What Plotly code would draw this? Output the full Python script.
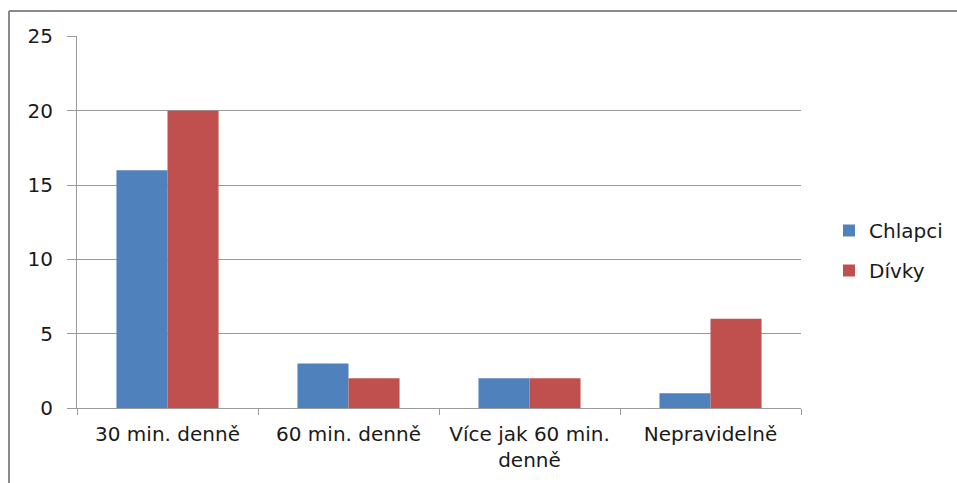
import plotly.graph_objects as go

categories = ["30 min. denně", "60 min. denně", "Více jak 60 min.<br>denně", "Nepravidelně"]
chlapci = [16, 3, 2, 1]
divky = [20, 2, 2, 6]
y_ticks = [0, 5, 10, 15, 20, 25]

W, H = 957, 483
L, R, T, B = 77, 156, 36, 75
pw, ph = W - L - R, H - T - B

def px_x(x):
    return (x - L) / pw

def px_y(y):
    return (H - B - y) / ph

FONT = "DejaVu Sans"
TXT = "#1a1a1a"
fig = go.Figure()
fig.add_trace(go.Bar(name="Chlapci", x=categories, y=chlapci, marker_color="#4F81BD",
                     marker_line_width=0, legendgroup="a"))
fig.add_trace(go.Bar(name="Dívky", x=categories, y=divky, marker_color="#C0504D",
                     marker_line_width=0, legendgroup="b"))

fig.update_layout(
    width=W, height=H,
    margin=dict(l=L, r=R, t=T, b=B, pad=0, autoexpand=False),
    paper_bgcolor="white", plot_bgcolor="white",
    barmode="group", bargap=0.436, bargroupgap=0,
    font=dict(family=FONT, size=20, color=TXT),
    legend=dict(x=px_x(829), y=px_y(211), xanchor="left", yanchor="top",
                font=dict(size=20, family=FONT, color=TXT),
                itemwidth=30, tracegroupgap=11, bgcolor="rgba(0,0,0,0)"),
    xaxis=dict(type="category", tickson="boundaries", ticks="outside", ticklen=6,
               tickcolor="#9a9a9a", showline=True, linecolor="#9a9a9a", linewidth=1,
               showgrid=False, tickfont=dict(size=20, family=FONT, color=TXT),
               ticklabelstandoff=8),
    yaxis=dict(range=[0, 25.03], tickvals=y_ticks, ticks="outside", ticklen=9,
               tickcolor="#9a9a9a", showline=True, linecolor="#9a9a9a", linewidth=1,
               showgrid=True, gridcolor="#9a9a9a", gridwidth=1, zeroline=False,
               tickfont=dict(size=20, family=FONT, color=TXT), ticklabelstandoff=10),
    shapes=[
        dict(type="line", xref="paper", yref="paper", x0=px_x(9), x1=px_x(960),
             y0=px_y(11), y1=px_y(11), line=dict(color="#8a8a8a", width=2)),
        dict(type="line", xref="paper", yref="paper", x0=px_x(9), x1=px_x(9),
             y0=px_y(11), y1=px_y(490), line=dict(color="#8a8a8a", width=2)),
    ],
)
fig.write_html("out.html", config={"displayModeBar": False},
               post_script="document.body.style.margin='0';")
